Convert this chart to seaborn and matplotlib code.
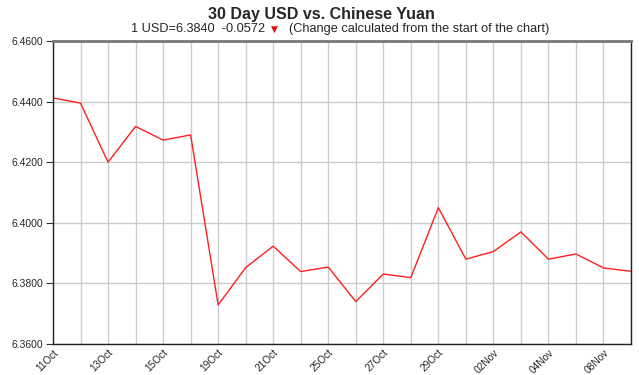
import matplotlib
matplotlib.use("Agg")
import matplotlib.pyplot as plt
import seaborn as sns
import pandas as pd

dates = ["11Oct", "12Oct", "13Oct", "14Oct", "15Oct", "18Oct", "19Oct", "20Oct",
         "21Oct", "22Oct", "25Oct", "26Oct", "27Oct", "28Oct", "29Oct", "01Nov",
         "02Nov", "03Nov", "04Nov", "05Nov", "08Nov", "09Nov"]
rates = [6.4412, 6.4395, 6.4200, 6.4318, 6.4273, 6.4290, 6.3729, 6.3852,
         6.3923, 6.3839, 6.3854, 6.3740, 6.3831, 6.3819, 6.4050, 6.3880,
         6.3905, 6.3970, 6.3880, 6.3897, 6.3851, 6.3840]
y_ticks = [6.36, 6.38, 6.40, 6.42, 6.44, 6.46]

sns.set_theme(style="white")
plt.rcParams['font.family'] = ['Liberation Sans', 'DejaVu Sans']

df = pd.DataFrame({"idx": range(len(dates)), "date": dates, "rate": rates})

W, H = 639, 375
fig = plt.figure(figsize=(W / 100, H / 100), dpi=100)
ax = fig.add_axes([53 / W, 1 - 344 / H, (631 - 53) / W, (344 - 41) / H])

sns.lineplot(data=df, x="idx", y="rate", ax=ax, color="#ff2020", linewidth=1.0)

ax.set_xlim(0, len(dates) - 1)
ax.set_ylim(6.36, 6.46)
ax.set_yticks(y_ticks)
ax.set_yticklabels([f"{v:.4f}" for v in y_ticks], fontsize=7.5)
ax.set_xticks(range(len(dates)))
ax.set_xticklabels([d if i % 2 == 0 else "" for i, d in enumerate(dates)],
                   rotation=45, ha="right", rotation_mode="anchor", fontsize=7.3)
ax.grid(True, color="#cccccc", linewidth=1.0)
ax.set_axisbelow(True)
ax.set_xlabel("")
ax.set_ylabel("")
ax.tick_params(axis="y", length=5, width=0.8, color="#333333", pad=2, left=True)
ax.tick_params(axis="x", length=0, pad=2.5)
for side in ["left", "bottom", "right"]:
    ax.spines[side].set_color("#222222")
    ax.spines[side].set_linewidth(1.0)
ax.spines["top"].set_color("#777777")
ax.spines["top"].set_linewidth(2.0)

fig.text(321.5 / W, 1 - 14 / H, "30 Day USD vs. Chinese Yuan", ha="center", va="center",
         fontsize=11.5, fontweight="bold")
fig.text(265 / W, 1 - 29 / H, "1 USD=6.3840  -0.0572", ha="right", va="center", fontsize=9.2)
fig.text(274 / W, 1 - 29.5 / H, "▼", ha="center", va="center", fontsize=6.5,
         color="#e01010", family=["DejaVu Sans"])
fig.text(289 / W, 1 - 29 / H, "(Change calculated from the start of the chart)",
         ha="left", va="center", fontsize=9.2)

fig.savefig("out.png", dpi=100)
